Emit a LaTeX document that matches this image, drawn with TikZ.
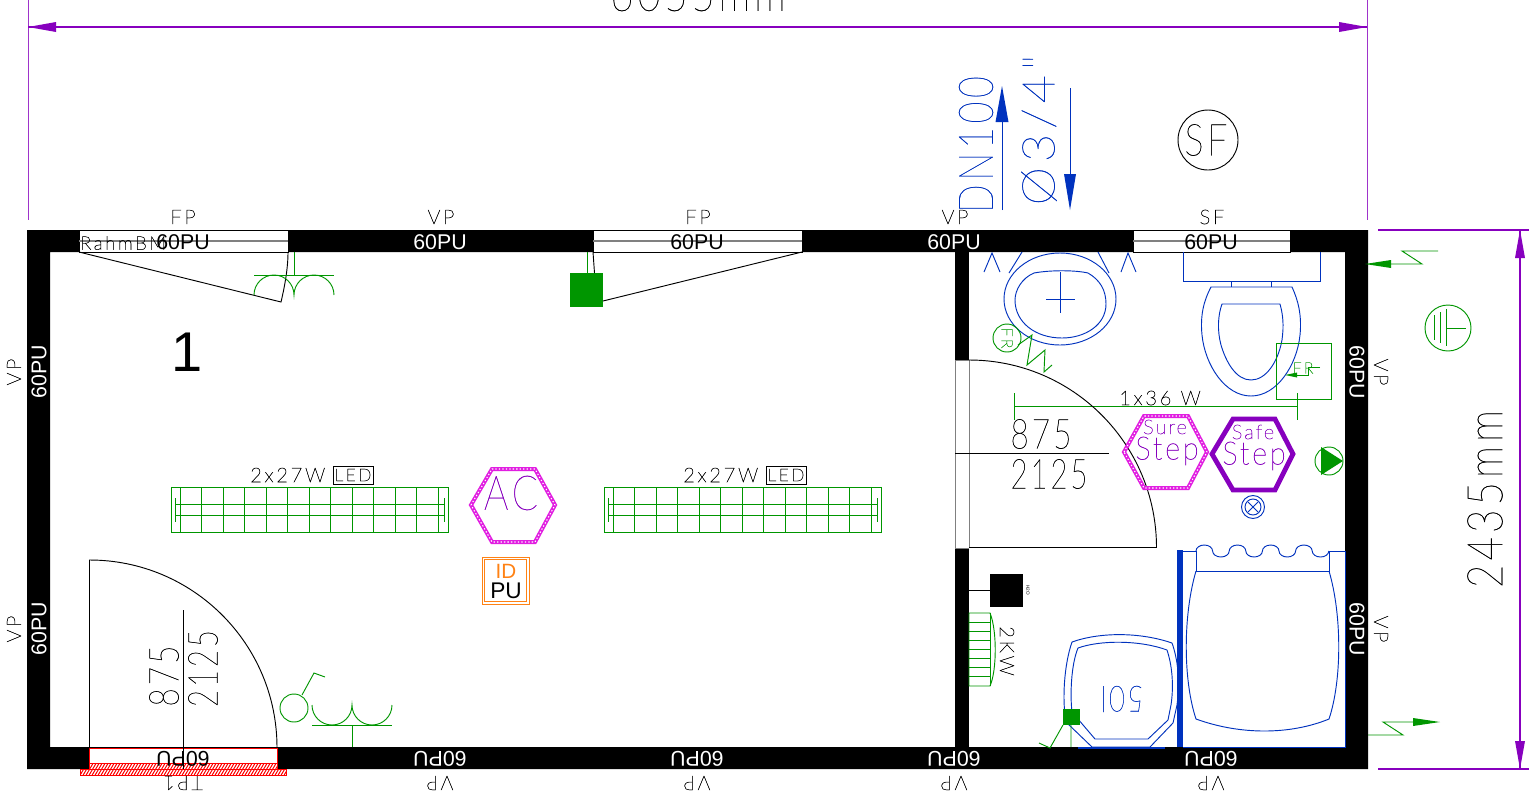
\documentclass[tikz,border=0pt]{standalone}
\usepackage{fontspec}
\setmainfont{Liberation Sans}
\setsansfont{Liberation Sans}
\newfontfamily\cadfont{Lato Hairline}[LetterSpace=14,FakeBold=1.6]
\newfontfamily\thinfont{Lato Hairline}[LetterSpace=10,FakeBold=0.6]
\newfontfamily\thinsmall{Lato Hairline}[LetterSpace=10,FakeBold=1.2]
\usetikzlibrary{patterns,arrows.meta,shapes.geometric}
\definecolor{cadgreen}{RGB}{0,150,0}
\definecolor{cadblue}{RGB}{0,50,190}
\definecolor{cadpurple}{RGB}{135,0,190}
\definecolor{cadmagenta}{RGB}{225,30,225}
\definecolor{cadorange}{RGB}{255,130,20}
\tikzset{
 x=0.75pt,y=-0.75pt,
 cad/.style={font=\cadfont,inner sep=0,text=black},
 pu/.style={font=\sffamily\fontsize{16}{16}\selectfont,inner sep=0},
 winbox/.style={draw=black,fill=white,line width=.7pt},
 gline/.style={cadgreen,line width=.7pt},
 bline/.style={cadblue,line width=.7pt},
 kline/.style={black,line width=.7pt},
 dimline/.style={cadpurple,line width=.8pt},
 extline/.style={cadpurple!80,line width=.6pt},
 hexband/.style={cadmagenta,line width=3pt},
 hexdots/.style={white,line width=.8pt,dash pattern=on 1pt off 1.6pt},
}
\newcommand{\cadtext}[5][0]{\node[cad,rotate=#1,font=\cadfont\fontsize{#2}{#2}\selectfont,#3] at #4 {#5};}
\newcommand{\thintext}[5][0]{\node[cad,rotate=#1,font=\thinfont\fontsize{#2}{#2}\selectfont,#3] at #4 {#5};}
\begin{document}
\begin{tikzpicture}
\useasboundingbox (0,0) rectangle (1529,794);
\fill[white] (0,0) rectangle (1529,794);
% walls
\fill[black,even odd rule] (27,230) rectangle (1368,769) (50,252) rectangle (1345,747);
\fill[black] (955,252) rectangle (969,747);
\fill[white] (955,360) rectangle (969,548);
\draw[kline,gray] (955,360) -- (955,548) (969,360) -- (969,548) (955,360)--(969,360) (955,548)--(969,548);
% windows
\foreach \a/\b in {79/288,593/802,1133/1290}{
 \draw[winbox] (\a,230.5) rectangle (\b,252);
 \draw[gray,line width=.9pt] (\a,241) -- (\b,241);
}
% top labels
\cadtext{14}{anchor=west}{(80,243)}{RahmBM}
\node[pu,text=black] (w1) at (183,242) {60PU};
\node[pu,text=white] (w2) at (440,242) {60PU};
\node[pu,text=black] (w3) at (697,242) {60PU};
\node[pu,text=white] (w4) at (954,242) {60PU};
\node[pu,text=black] (w5) at (1211,242) {60PU};
\cadtext{15}{}{(183,217)}{FP}
\cadtext{15}{}{(441,217)}{VP}
\cadtext{15}{}{(698,217)}{FP}
\cadtext{15}{}{(955,217)}{VP}
\cadtext{15}{}{(1212,217)}{SF}
% bottom labels
\foreach \x in {440,697,954,1211}{\node[pu,text=white,rotate=180] at (\x,759) {60PU};}
\foreach \x in {440,697,954,1211}{\cadtext[180]{15}{}{(\x,783)}{VP}}
% side labels
\node[pu,text=white,rotate=90] at (39,372) {60PU};
\node[pu,text=white,rotate=90] at (39,629) {60PU};
\node[pu,text=white,rotate=-90] at (1357,372) {60PU};
\node[pu,text=white,rotate=-90] at (1357,629) {60PU};
\cadtext[90]{15}{}{(14,372)}{VP}
\cadtext[90]{15}{}{(14,629)}{VP}
\cadtext[-90]{15}{}{(1381,372)}{VP}
\cadtext[-90]{15}{}{(1381,629)}{VP}
% door bottom-left
\draw[winbox,draw=red] (89.5,748) rectangle (277,763);
\fill[white] (89.5,763) rectangle (277,769) (80.5,769) rectangle (286.5,775);
\begin{scope}
 \clip (89.5,763) rectangle (277,769) (80.5,769) rectangle (286.5,775);
 \foreach \x in {70,73,...,295}{\draw[red,line width=.75pt] (\x,777) -- (\x+10,760);}
\end{scope}
\draw[red,line width=.7pt] (89.5,763) rectangle (277,769);
\draw[red,line width=.7pt] (80.5,769) rectangle (286.5,775);
\node[pu,text=black,rotate=180] at (183,759) {60PU};
\cadtext[180]{15}{}{(183,783)}{TP1}
\draw[kline] (89.5,748) -- (89.5,560) arc[start angle=-90,end angle=0,radius=187.5];
\draw[kline] (183.5,610) -- (183.5,769);
\thintext[90]{31}{}{(164,676)}{\scalebox{.76}[1]{875}}
\thintext[90]{31}{}{(203,668.5)}{\scalebox{.71}[1]{2125}}
% room number
\node[inner sep=0,font=\sffamily\fontsize{42}{42}\selectfont] at (187,352) {1};
% top left door
\draw[kline] (79,252) -- (281,302) .. controls (285,285) and (288,268) .. (288,252);
% switch top left
\draw[gline] (254,275) -- (334,275) (294,252) -- (294,275);
\draw[gline] (254,295) arc[start angle=180,end angle=360,radius=20] arc[start angle=180,end angle=360,radius=20];
% left lower switch
\draw[gline] (294,708) circle[radius=14];
\draw[gline] (302,695) -- (314,673) -- (325,677);
\draw[gline] (312,705) arc[start angle=180,end angle=0,radius=20] arc[start angle=180,end angle=0,radius=20];
\draw[gline] (312,725) -- (392,725) (352,725) -- (352,747);
% green box middle top
\fill[cadgreen] (570,273) rectangle (603,307);
\draw[gline] (587,252)--(587,273);
\draw[kline] (593,252)--(594.5,273);
\draw[kline] (603,301) -- (802,252);
% lamps
\foreach \x/\n in {171/a,604/b}{
 \begin{scope}[shift={(\x,487)}]
 \draw[gline] (0,0) rectangle (277,45);
 \draw[gline] (4,11) -- (4,35) (273,11) -- (273,35);
 \draw[gline] (4,17) -- (273,17) (4,28) -- (273,28);
 \foreach \k in {0,...,12}{\draw[gline] (9+\k*21.5,0) -- (9+\k*21.5,45);}
 \end{scope}
}
\cadtext{15}{anchor=west}{(250,475)}{2x27W}
\cadtext{15}{anchor=west}{(683,475)}{2x27W}
\foreach \x in {353,786}{\node[draw=black,line width=.7pt,minimum width=30pt,minimum height=13.5pt,cad,font=\cadfont\fontsize{13}{13}\selectfont] at (\x,475) {LED};}
% AC hexagon
\draw[hexband] (471,505) -- (492,469) -- (535,469) -- (555,505) -- (535,542) -- (492,542) -- cycle;
\draw[hexdots] (471,505) -- (492,469) -- (535,469) -- (555,505) -- (535,542) -- (492,542) -- cycle;
\thintext{36}{}{(511,493)}{\textcolor{cadpurple}{\scalebox{.8}[1]{AC}}}
% ID PU
\draw[cadorange,line width=.7pt] (482,557) rectangle (529,604) (484.5,559.5) rectangle (526.5,601.5);
\node[font=\sffamily\fontsize{15.5}{15.5}\selectfont,text=cadorange,inner sep=0] at (506,571) {ID};
\node[font=\sffamily\fontsize{17}{17}\selectfont,inner sep=0] at (506,591) {PU};
% sink
\draw[bline] (1060,299) ellipse[x radius=56,y radius=46];
\draw[bline] (1034,273) .. controls (1050,270) and (1075,270) .. (1088,273) .. controls (1100,280) and (1106,290) .. (1106,304) .. controls (1106,325) and (1085,338) .. (1062,338) .. controls (1035,338) and (1015,322) .. (1015,300) .. controls (1015,290) and (1022,278) .. (1034,273) -- cycle;
\draw[bline] (1060,272) -- (1060,313) (1046,299) -- (1075,299);
\draw[bline] (984,272) -- (992,253) -- (1000,272) (1121,272) -- (1128,253) -- (1136,272);
\draw[bline] (1009,273) -- (1022,252) (1109,273) -- (1098,252);
% FR circle + zigzag
\draw[gline] (1007,338) circle[radius=14];
\cadtext[-90]{12}{}{(1007,338)}{\textcolor{cadgreen}{FR}}
\draw[gline] (1018,345) -- (1032,335) -- (1027,365) -- (1045,350) -- (1044,372) -- (1052,365);
% WC
\draw[bline] (1183,252) -- (1183,281) -- (1320,281) -- (1320,252);
\draw[bline] (1231,281)--(1231,287) (1271,281)--(1271,287);
\draw[bline] (1211,287) .. controls (1204,300) and (1200,315) .. (1202,335) .. controls (1205,365) and (1225,396) .. (1251,396) .. controls (1277,396) and (1297,365) .. (1300,335) .. controls (1302,315) and (1298,300) .. (1292,287) -- cycle;
\draw[bline] (1222,304) .. controls (1218,315) and (1217,330) .. (1221,345) .. controls (1226,362) and (1236,380) .. (1251,380) .. controls (1266,380) and (1278,362) .. (1282,340) .. controls (1284,325) and (1283,315) .. (1280,304) -- cycle;
% FR box
\draw[gline] (1276,343) rectangle (1331,399);
\node[cad,font=\cadfont\fontsize{12}{12}\selectfont] at (1303,368) {\textcolor{cadgreen}{FR}};
\draw[gline] (1320,367) -- (1308,367) -- (1308,375) -- (1295,375);
\fill[cadgreen] (1285,375) -- (1297,372.5) -- (1297,377.5) -- cycle;
% lamp 1x36
\draw[gline] (1014,393) -- (1014,420) (1297,393) -- (1297,420) (1014,406) -- (1297,406);
\cadtext{15}{}{(1160,398)}{1x36\hspace{7pt}W}
% inner door
\draw[kline] (969,360) arc[start angle=-90,end angle=0,radius=187.5] -- (969,547.5);
\draw[kline] (955,453) -- (1109,453);
\thintext{31}{}{(1041,434)}{\scalebox{.76}[1]{875}}
\thintext{31}{}{(1049,474)}{\scalebox{.71}[1]{2125}}
% Sure step
\draw[hexband] (1124,452) -- (1144,416) -- (1188,416) -- (1207,452) -- (1188,488) -- (1144,488) -- cycle;
\draw[hexdots] (1124,452) -- (1144,416) -- (1188,416) -- (1207,452) -- (1188,488) -- (1144,488) -- cycle;
\node[cad,font=\thinsmall\fontsize{15}{15}\selectfont] at (1165,427) {\textcolor{cadpurple}{Sure}};
\node[cad,font=\thinsmall\fontsize{24}{24}\selectfont] at (1167,451) {\textcolor{cadpurple}{\scalebox{.9}[1]{Step}}};
% Safe step
\draw[cadpurple,line width=3.6pt] (1212,454) -- (1233,419) -- (1275,419) -- (1293,454) -- (1275,490) -- (1233,490) -- cycle;
\node[cad,font=\thinsmall\fontsize{15}{15}\selectfont] at (1253,432) {\textcolor{cadpurple}{Safe}};
\node[cad,font=\thinsmall\fontsize{24}{24}\selectfont] at (1254,456) {\textcolor{cadpurple}{\scalebox{.9}[1]{Step}}};
% green play
\draw[gline] (1329,461) circle[radius=14];
\fill[cadgreen] (1321,447) -- (1343,461) -- (1321,475) -- cycle;
% blue target
\draw[bline] (1253,507) circle[radius=11.5] circle[radius=8];
\draw[bline] (1248,502) -- (1258,512) (1248,512) -- (1258,502);
% shower
\fill[cadblue] (1177,550) rectangle (1183,747);
\draw[bline] (1183,551) -- (1196,551) (1329,551) -- (1345,551) -- (1345,747) -- (1183,747);
\draw[bline] (1196,551) -- (1196,571) -- (1329,571) -- (1329,551);
\draw[bline] (1196,551)
  arc[start angle=180,end angle=360,x radius=8.3,y radius=6] arc[start angle=180,end angle=0,x radius=8.3,y radius=6]
  arc[start angle=180,end angle=360,x radius=8.3,y radius=6] arc[start angle=180,end angle=0,x radius=8.3,y radius=6]
  arc[start angle=180,end angle=360,x radius=8.3,y radius=6] arc[start angle=180,end angle=0,x radius=8.3,y radius=6]
  arc[start angle=180,end angle=360,x radius=8.3,y radius=6] arc[start angle=180,end angle=0,x radius=8.3,y radius=6];
\draw[bline] (1196,571) .. controls (1183,615) and (1183,680) .. (1196,719) .. controls (1240,735) and (1290,735) .. (1329,719) .. controls (1342,680) and (1342,615) .. (1329,571);
% washbasin 50l
\draw[bline] (1072,642) .. controls (1100,632) and (1140,632) .. (1172,643) .. controls (1178,660) and (1180,680) .. (1177,705) -- (1173,723) -- (1150,747) -- (1092,747) -- (1066,722) .. controls (1062,700) and (1064,665) .. (1072,642) -- cycle;
\draw[bline] (1078,648) .. controls (1100,640) and (1140,640) .. (1167,650) .. controls (1172,665) and (1174,685) .. (1171,705) -- (1168,720) -- (1148,739) -- (1095,739) -- (1072,712) .. controls (1070,695) and (1071,665) .. (1078,648) -- cycle;
\thintext[180]{27}{}{(1122,699)}{\textcolor{cadblue}{\scalebox{.76}[1]{50l}}}
\draw[cadblue,line width=1.2pt] (1078,748) -- (1165,748);
% green box at boiler
\fill[cadgreen] (1063,709) rectangle (1080,725);
\draw[gline] (1071,725) -- (1071,747) (1063,725) -- (1050,748) -- (1039,743);
% black box
\fill[black] (990,574) rectangle (1023,607);
\draw[kline] (969,590) -- (990,590);
\node[inner sep=0,font=\sffamily\fontsize{3.5}{3.5}\selectfont,rotate=-90] at (1028,590) {H2O};
% heater
\draw[gline] (969,613) -- (990,613) .. controls (997,630) and (997,670) .. (990,686) -- (969,686) -- cycle;
\draw[gline] (990,613) -- (990,686);
\foreach \k in {1,...,7}{\draw[gline] (969,613+\k*9) -- (990,613+\k*9);}
\cadtext[-90]{15}{}{(1007,651)}{2KW}
% pipes top
\draw[bline] (1002,210) -- (1002,121);
\fill[cadblue] (1002,86) -- (1008.5,122) -- (995.5,122) -- cycle;
\draw[bline] (1070,88) -- (1070,175);
\fill[cadblue] (1070,210) -- (1064,174) -- (1076,174) -- cycle;
\thintext[90]{36}{}{(976,144.5)}{\textcolor{cadblue}{\scalebox{.78}[1]{DN100}}}
\thintext[90]{34}{}{(1039,130)}{\textcolor{cadblue}{\scalebox{1.08}[1]{Ø3/4"}}}
% SF circle
\draw[kline] (1208,140) circle[radius=30];
\thintext{33}{}{(1206,140)}{\scalebox{.82}[1]{SF}}
% dimensions
\draw[extline] (28,0) -- (28,220) (1367,0) -- (1367,220);
\draw[dimline] (28,27) -- (1367,27);
\fill[cadpurple] (28,27) -- (56,22) -- (56,32) -- cycle (1367,27) -- (1339,22) -- (1339,32) -- cycle;
\thintext{36}{}{(698,-6)}{\scalebox{.83}[1]{6055mm}}
\draw[dimline] (1378,230) -- (1529,230) (1378,769) -- (1529,769) (1520,230) -- (1520,769);
\fill[cadpurple] (1520,230) -- (1525,258) -- (1515,258) -- cycle (1520,769) -- (1525,741) -- (1515,741) -- cycle;
\thintext[90]{37}{}{(1485,499)}{\scalebox{.82}[1]{2435mm}}
% ground
\draw[gline] (1448,328) circle[radius=23];
\draw[gline] (1434,315) -- (1434,340) (1440,312) -- (1440,343) (1446,309) -- (1446,346) (1446,328) -- (1466,328);
% arrows right
\draw[gline] (1438,251) -- (1402,251) -- (1422,264) -- (1390,264);
\fill[cadgreen] (1365,264) -- (1391,260) -- (1391,268) -- cycle;
\draw[gline] (1368,735) -- (1403,735) -- (1383,722) -- (1413,722);
\fill[cadgreen] (1440,722) -- (1413,718) -- (1413,726) -- cycle;
\end{tikzpicture}
\end{document}
